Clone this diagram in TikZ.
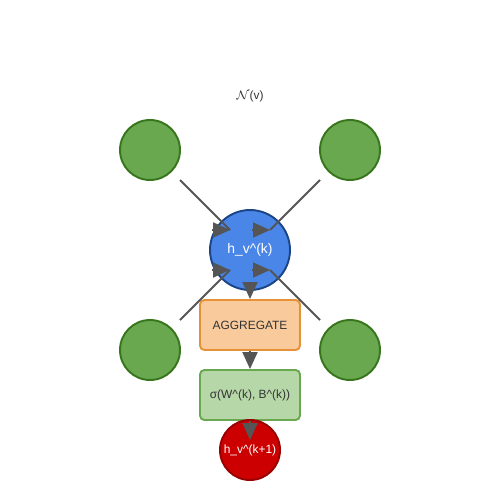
\documentclass[tikz,border=0pt]{standalone}
\usepackage{fontspec}
\setmainfont{Liberation Sans}
\usepackage{xcolor}
\usetikzlibrary{arrows.meta}
\definecolor {leaf}     {HTML}{6AA84F}
\definecolor {leafline} {HTML}{38761D}
\definecolor {self}     {HTML}{4A86E8}
\definecolor {selfline} {HTML}{1C4587}
\definecolor {agg}      {HTML}{F9CB9C}
\definecolor {aggline}  {HTML}{E69138}
\definecolor {upd}      {HTML}{B6D7A8}
\definecolor {out}      {HTML}{CC0000}
\definecolor {outline}  {HTML}{990000}
\definecolor {ink}      {HTML}{333333}
\definecolor {wire}     {HTML}{555555}

\begin{document}
\begin{tikzpicture}[x=0.02cm, y=-0.02cm,
	neighbour/.style={circle, draw=leafline, fill=leaf, line width=1.1pt, minimum size=1.2cm, inner sep=0pt},
	target/.style={circle, draw=selfline, fill=self, line width=1.1pt, minimum size=1.6cm, inner sep=0pt, text=white, font=\fontsize{7.9}{9}\selectfont},
	result/.style={circle, draw=outline, fill=out, line width=1.1pt, minimum size=1.2cm, inner sep=0pt, text=white, font=\fontsize{6.8}{8}\selectfont},
	stage/.style={rectangle, rounded corners=2.5pt, line width=1.1pt, minimum width=2cm, minimum height=1cm, inner sep=0pt, text=ink, font=\fontsize{6.8}{8}\selectfont},
	msg/.style={draw=wire, line width=1.1pt},
	tip/.style={draw=wire, fill=wire, line width=1.1pt, -{Triangle[length=0.34cm, width=0.3cm]}}]

	\useasboundingbox (0, 0) rectangle (500, 500);

	% Label of the neighbourhood
	\node[text=ink, font=\fontsize{6.8}{8}\selectfont] (nbh) at (250, 96) {$\mathcal{N}$(v)};

	% Draw neighbour nodes
	\foreach \name/\x/\y in {nw/150/150, ne/350/150, sw/150/350, se/350/350}
		\node[neighbour] (\name) at (\x, \y) {};

	% Draw the node itself and the update steps
	\node[target] (hv) at (250, 250) {h\_v\textasciicircum(k)};
	\node[stage, draw=aggline, fill=agg] (aggregate) at (250, 325) {AGGREGATE};
	\node[stage, draw=leaf, fill=upd] (update) at (250, 395) {σ(W\textasciicircum(k), B\textasciicircum(k))};
	\node[result] (hnext) at (250, 450) {h\_v\textasciicircum(k+1)};

	% Draw messages from neighbours
	\foreach \name/\sx/\sy/\ex/\ey in {nw/30/30/-20/-20, ne/-30/30/20/-20, sw/30/-30/-20/20, se/-30/-30/20/20} {
		\coordinate (\name-end) at ([shift={(\ex, \ey)}]hv.center);
		\draw[msg] ([shift={(\sx, \sy)}]\name.center) -- (\name-end);
		\draw[tip] ([shift={(-18, 0)}]\name-end) -- (\name-end);
	}

	% Draw flow down
	\draw[tip] (hv.south) -- (aggregate.north);
	\draw[tip] (aggregate.south) -- (update.north);
	\draw[tip] (update.south) -- ([shift={(0, -10)}]hnext.center);

\end{tikzpicture}
\end{document}
